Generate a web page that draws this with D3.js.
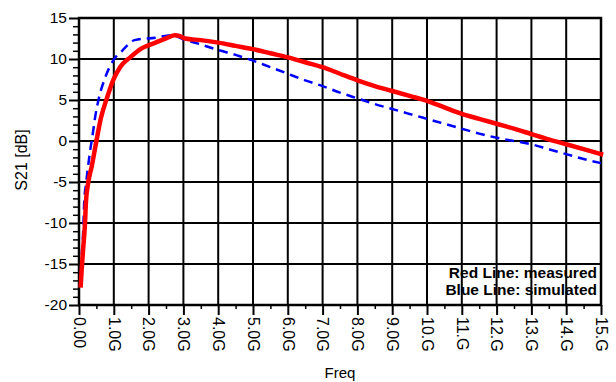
<!DOCTYPE html>
<html><head><meta charset="utf-8">
<script src="https://cdn.jsdelivr.net/npm/d3@7"></script>
<style>body{margin:0;background:#fff}svg{display:block}text{font-family:"Liberation Sans",Arial,sans-serif;fill:#000}</style>
</head><body>
<svg id="c" width="616" height="382"></svg>
<script>
const xTickValues = [0,1,2,3,4,5,6,7,8,9,10,11,12,13,14,15];
const xTickLabels = ["0.00","1.0G","2.0G","3.0G","4.0G","5.0G","6.0G","7.0G","8.0G","9.0G","10.G","11.G","12.G","13.G","14.G","15.G"];
const yTickValues = [15,10,5,0,-5,-10,-15,-20];
const yTickLabels = ["15","10","5","0","-5","-10","-15","-20"];
const measuredFreq = [0.05,0.08,0.12,0.17,0.2,0.26,0.37,0.5,0.63,0.8,0.98,1.18,1.47,1.8,2.2,2.55,2.75,2.9,3.05,3.5,4.0,4.5,5.0,5.5,6.0,6.5,7.0,7.5,8.0,8.5,9.0,9.5,10.0,10.5,11.0,11.5,12.0,12.5,13.0,13.5,14.0,14.5,15.0];
const measuredS21 = [-17.6,-15.5,-13.1,-10.2,-7.4,-5.2,-3.0,0.0,2.8,5.2,7.4,9.0,10.2,11.3,12.0,12.6,12.9,12.8,12.5,12.3,12.0,11.6,11.2,10.7,10.2,9.6,9.0,8.2,7.4,6.7,6.1,5.5,4.9,4.1,3.3,2.7,2.1,1.5,0.85,0.2,-0.4,-1.0,-1.6];
const simFreq = [0.03,0.05,0.08,0.12,0.15,0.2,0.27,0.32,0.4,0.46,0.57,0.75,0.98,1.24,1.6,2.2,2.67,3.05,3.4,4.0,4.5,5.0,5.5,6.0,6.5,7.0,7.5,8.0,8.5,9.0,9.5,10.0,10.5,11.0,11.5,12.0,12.5,13.0,13.5,14.0,14.5,15.0];
const simS21 = [-17.5,-16,-13.9,-11,-7.4,-5.3,-2.8,-1.2,1.0,2.8,5.2,7.7,9.8,11.0,12.3,12.6,12.9,12.3,11.9,11.1,10.5,9.8,9.0,8.2,7.4,6.7,5.9,5.2,4.5,3.9,3.3,2.7,2.1,1.5,0.9,0.4,0.0,-0.4,-1.0,-1.6,-2.2,-2.7];
const legendLines = ["Red Line: measured","Blue Line: simulated"];

const svg = d3.select("#c");
const L=79,R=601,T=18,B=305;
const x = d3.scaleLinear().domain([0,15]).range([L,R]);
const y = d3.scaleLinear().domain([-20,15]).range([B,T]);

// grid
const g = svg.append("g");
g.selectAll(".vg").data(xTickValues).enter().append("line")
 .attr("x1",d=>x(d)).attr("x2",d=>x(d)).attr("y1",T).attr("y2",B)
 .attr("stroke","#000").attr("stroke-width",2);
g.selectAll(".hg").data(yTickValues).enter().append("line")
 .attr("x1",L).attr("x2",R).attr("y1",d=>y(d)).attr("y2",d=>y(d))
 .attr("stroke","#000").attr("stroke-width",2);

// axes
const yAxis = d3.axisLeft(y).tickValues(yTickValues).tickSize(10).tickPadding(2)
 .tickFormat((d,i)=>yTickLabels[i]);
const ya = svg.append("g").attr("transform",`translate(${L},0)`).call(yAxis);
ya.select(".domain").remove();
ya.selectAll("line").attr("stroke-width",2);
ya.selectAll("text").attr("font-size",15.5).attr("font-family","Liberation Sans, Arial, sans-serif");
const yMinor = d3.axisLeft(y).tickValues(d3.range(-20,16,1).filter(v=>v%5!==0)).tickSize(6).tickFormat("");
const ym = svg.append("g").attr("transform",`translate(${L},0)`).call(yMinor);
ym.select(".domain").remove(); ym.selectAll("line").attr("stroke-width",1.5);

const xAxis = d3.axisBottom(x).tickValues(xTickValues).tickSize(10).tickFormat((d,i)=>xTickLabels[i]);
const xa = svg.append("g").attr("transform",`translate(0,${B})`).call(xAxis);
xa.select(".domain").remove();
xa.selectAll("line").attr("stroke-width",2);
xa.selectAll("text").attr("font-size",16).attr("font-family","Liberation Sans, Arial, sans-serif")
 .attr("transform","rotate(90)").attr("text-anchor","start").attr("dy","0.35em").attr("x",12).attr("y",0);
const xMinor = d3.axisBottom(x).tickValues(d3.range(0.5,15,1)).tickSize(4).tickFormat("");
const xm = svg.append("g").attr("transform",`translate(0,${B})`).call(xMinor);
xm.select(".domain").remove(); xm.selectAll("line").attr("stroke-width",1.5);

// frame
svg.append("rect").attr("x",L).attr("y",T).attr("width",R-L).attr("height",B-T)
 .attr("fill","none").attr("stroke","#000").attr("stroke-width",2.5);

// lines
const line = d3.line().x(d=>x(d[0])).y(d=>y(d[1])).curve(d3.curveMonotoneX);
svg.append("path").datum(simFreq.map((f,i)=>[f,simS21[i]]))
 .attr("d",line).attr("fill","none").attr("stroke","#0000ff").attr("stroke-width",2.5)
 .attr("stroke-dasharray","9,6");
svg.append("path").datum(measuredFreq.map((f,i)=>[f,measuredS21[i]]))
 .attr("d",line).attr("fill","none").attr("stroke","#ff0000").attr("stroke-width",4.5)
 .attr("stroke-linecap","square").attr("stroke-linejoin","round");

// legend
svg.selectAll(".lg").data(legendLines).enter().append("text")
 .attr("x",597).attr("y",(d,i)=>278+i*17).attr("text-anchor","end")
 .attr("font-size",15.5).attr("font-weight","bold").text(d=>d);

// labels
svg.append("text").attr("x",340).attr("y",378).attr("text-anchor","middle").attr("font-size",15).text("Freq");
svg.append("text").attr("transform","translate(27,160) rotate(-90)").attr("text-anchor","middle")
 .attr("font-size",16).text("S21 [dB]");
</script>
</body></html>
